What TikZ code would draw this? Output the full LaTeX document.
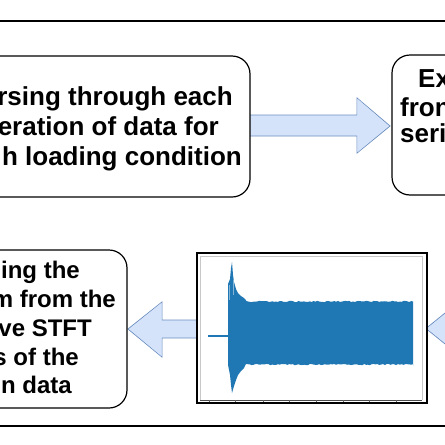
\documentclass[tikz,border=0pt]{standalone}
\usepackage{fontspec}
\setmainfont{Liberation Sans}
\begin{document}
\begin{tikzpicture}[x=1pt,y=-1pt,
  box/.style={draw=black,line width=1.2pt,rounded corners=18pt,fill=white,inner sep=0pt},
  txt/.style={inner sep=0pt,font=\fontsize{26}{30}\selectfont\bfseries},
  txtb/.style={inner sep=0pt,font=\fontsize{24}{29}\selectfont\bfseries},
  barrow/.style={fill=arrowfill,draw=arrowline,line width=0.8pt,line join=miter}]
\definecolor{arrowfill}{RGB}{212,227,250}
\definecolor{arrowline}{RGB}{108,142,191}
\definecolor{sigblue}{RGB}{31,119,180}
\definecolor{framegray}{RGB}{200,200,200}
\useasboundingbox (0,0) rectangle (445,445);
\fill[white] (0,0) rectangle (445,445);
\clip (0,0) rectangle (445,445);
% separator lines
\coordinate (tl) at (0,21); \coordinate (tr) at (445,21);
\coordinate (bl) at (0,426); \coordinate (br) at (445,426);
\draw[line width=2.5pt] (tl) -- (tr);
\draw[line width=2.5pt] (bl) -- (br);
% block arrows (outline first, head fill on top)
\filldraw[barrow] (249,115) -- (357,115) -- (357,98) -- (390,126) -- (357,153) -- (357,136) -- (249,136) -- cycle;
\fill[arrowfill] (357.4,98.8) -- (389,126) -- (357.4,152.2) -- cycle;
\filldraw[barrow] (197,320) -- (162,320) -- (162,302) -- (128,329) -- (162,357) -- (162,338) -- (197,338) -- cycle;
\fill[arrowfill] (161.6,302.8) -- (129,329) -- (161.6,356.2) -- cycle;
\filldraw[barrow] (426,328.5) -- (460,301) -- (460,356) -- cycle;
\fill[arrowfill] (427,328.5) -- (460,301.8) -- (460,355.2) -- cycle;
% boxes
\node[box,minimum width=280pt,minimum height=141pt] (b1) at (110,126.5) {};
\node[box,minimum width=208pt,minimum height=140pt] (b2) at (496,125) {};
\node[box,minimum width=277pt,minimum height=158pt] (b3) at (-11.5,329) {};
% texts box 1
\node[txt,anchor=base east] (t11) at (233,105) {rsing through each};
\node[txt,anchor=base east] (t12) at (219,135) {eration of data for};
\node[txt,anchor=base east] (t13) at (242,165) {h loading condition};
% texts box 2
\node[txt,anchor=base west] (t21) at (418,87) {Ex};
\node[txt,anchor=base west] (t22) at (400,116) {fron};
\node[txt,anchor=base west] (t23) at (400,142) {seri};
% texts box 3
\node[txtb,anchor=base east] (t31) at (80,278) {ing the};
\node[txtb,anchor=base east] (t32) at (116,307) {m from the};
\node[txtb,anchor=base east] (t33) at (92,336) {ve STFT};
\node[txtb,anchor=base east] (t34) at (79,365) {s of the};
\node[txtb,anchor=base east] (t35) at (72,393) {n data};
% image box with signal
\node[draw=black,line width=2.5pt,fill=white,minimum width=230pt,minimum height=150pt,inner sep=0pt] (img) at (312,328) {};
\draw[framegray,line width=0.6pt] (200,400) -- (200,256) -- (422,256) -- (422,400);
\draw[black!70,line width=0.8pt] (200,400) -- (422,400);
\foreach \tx in {209,235,263,289,316,343,369,396} \draw[black!60,line width=0.5pt] (\tx,400) -- (\tx,402);
\draw[sigblue,line width=1.3pt] (208,336) -- (228,336);
\pgfmathsetseed{7}
\fill[sigblue] (228,336) -- (228,284) -- (230,279) -- (231,268) -- (232,262) -- (233,275) -- (234,282) -- (236,289) -- (238,293) -- (241,296) -- (244,298) -- (246,300)
  -- plot[domain=246:413,samples=90] (\x,{300.8+1.3*rnd})
  -- (413,366)
  -- plot[domain=413:246,samples=90] (\x,{365.2-1.3*rnd})
  -- (244,368) -- (241,371) -- (238,375) -- (236,380) -- (234,386) -- (232,393) -- (231,385) -- (230,375) -- (228,365) -- cycle;
\draw[sigblue!55,line width=0.6pt] (229.5,285) -- (229.5,300);
\draw[sigblue!55,line width=0.6pt] (233.5,280) -- (233.5,295);
\end{tikzpicture}
\end{document}
